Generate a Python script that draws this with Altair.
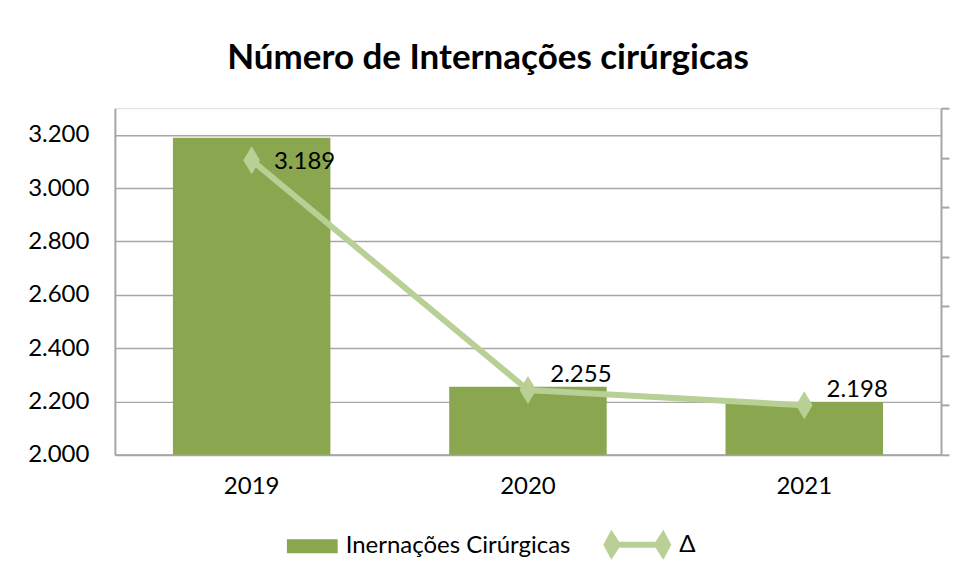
import altair as alt
import pandas as pd

# ---- data ----
years = ["2019", "2020", "2021"]
internacoes = [3189, 2255, 2198]
delta = [5.95, 1.31, 1.0]          # secondary (unlabelled) axis values
left_ticks = [2000, 2200, 2400, 2600, 2800, 3000, 3200]
right_ticks = [0, 1, 2, 3, 4, 5, 6, 7]
series_names = ["Inernações Cirúrgicas", "Δ"]
series_colors = ["#8aa64e", "#b8cf95"]

FONT = "Lato"
GRAY = "#a6a6a6"
FS = 24

bars_df = pd.DataFrame({"ano": years, "valor": internacoes, "serie": series_names[0]})
line_df = pd.DataFrame({"ano": years, "delta": delta, "serie": series_names[1]})

# legend symbols (unit = 14px): wide swatch, and line with two diamonds
rect_path = "M-1.2,-0.5 H2.43 V0.5 H-1.2 Z"
dd_path = ("M-2.43,0 L-1.86,-1.07 L-1.3,-0.21 L1.3,-0.21 L1.86,-1.07 L2.43,0 "
           "L1.86,1.07 L1.3,0.21 L-1.3,0.21 L-1.86,1.07 Z")
diamond_path = "M0,-1 L0.6,0 L0,1 L-0.6,0 Z"

legend = alt.Legend(
    title=None, orient="none", direction="horizontal",
    legendX=175, legendY=423,
    labelFont=FONT, labelFontSize=FS, labelColor="#000000", labelLimit=0,
    symbolSize=784, symbolStrokeWidth=0, columnPadding=31, labelOffset=28,
)
color = alt.Color("serie:N", scale=alt.Scale(domain=series_names, range=series_colors), legend=legend)
shape = alt.Shape("serie:N", scale=alt.Scale(domain=series_names, range=[rect_path, dd_path]), legend=legend)

x = alt.X(
    "ano:N", title=None, sort=years,
    scale=alt.Scale(paddingInner=0.43, paddingOuter=0.21),
    axis=alt.Axis(labelAngle=0, ticks=False, domainColor=GRAY, domainWidth=2,
                  labelFont=FONT, labelFontSize=FS, labelColor="#000000", labelPadding=20),
)

left_axis = alt.Axis(
    values=left_ticks, title=None, ticks=False, domainColor=GRAY, domainWidth=2,
    gridColor=GRAY, gridWidth=1.5,
    labelExpr="replace(format(datum.value, ',.0f'), ',', '.')",
    labelFont=FONT, labelFontSize=FS, labelColor="#000000", labelPadding=26,
)
left_y_scale = alt.Scale(domain=[2000, 3300], zero=False, nice=False)

right_axis = alt.Axis(
    orient="right", values=right_ticks, labels=False, title=None, grid=False,
    tickSize=8, tickColor=GRAY, tickWidth=2, domainColor=GRAY, domainWidth=2,
)
right_y_scale = alt.Scale(domain=[0, 7], nice=False, zero=True)

bars = alt.Chart(bars_df).mark_bar(clip=True).encode(
    x=x,
    y=alt.Y("valor:Q", scale=left_y_scale, axis=left_axis),
    color=color,
)

labels = alt.Chart(bars_df).transform_calculate(
    pos="min(datum.valor + 45, 3100)",
    txt="replace(format(datum.valor, ',.0f'), ',', '.')",
).mark_text(font=FONT, fontSize=FS, color="#000000", dx=53, baseline="middle").encode(
    x=x,
    y=alt.Y("pos:Q", scale=left_y_scale, axis=left_axis),
    text="txt:N",
)

line = alt.Chart(line_df).mark_line(strokeWidth=6).encode(
    x=x,
    y=alt.Y("delta:Q", scale=right_y_scale, axis=right_axis),
    color=color,
)

# visible diamond markers on the line
points = alt.Chart(line_df).mark_point(filled=True, size=784, opacity=1).encode(
    x=x,
    y=alt.Y("delta:Q", scale=right_y_scale, axis=right_axis),
    color=color,
    shape=alt.value(diamond_path),
)

# invisible layer that only carries the legend symbols
legend_layer = alt.Chart(line_df).mark_point(filled=True, size=784, fillOpacity=0, strokeOpacity=0).encode(
    x=x,
    y=alt.Y("delta:Q", scale=right_y_scale, axis=right_axis),
    color=color,
    shape=shape,
)

left = alt.layer(bars, labels)
right = alt.layer(line, points, legend_layer)

chart = alt.layer(left, right).resolve_scale(y="independent").properties(
    width=827, height=347,
    padding={"left": 19, "top": 33, "right": 0, "bottom": 0},
    title=alt.TitleParams("Número de Internações cirúrgicas", font=FONT, fontSize=35,
                          fontWeight="bold", color="#000000", offset=31, anchor="middle", dx=-40),
).configure_view(stroke=None).configure(background="#ffffff")

chart.save("out.html", embed_options={"renderer": "svg", "actions": False})
